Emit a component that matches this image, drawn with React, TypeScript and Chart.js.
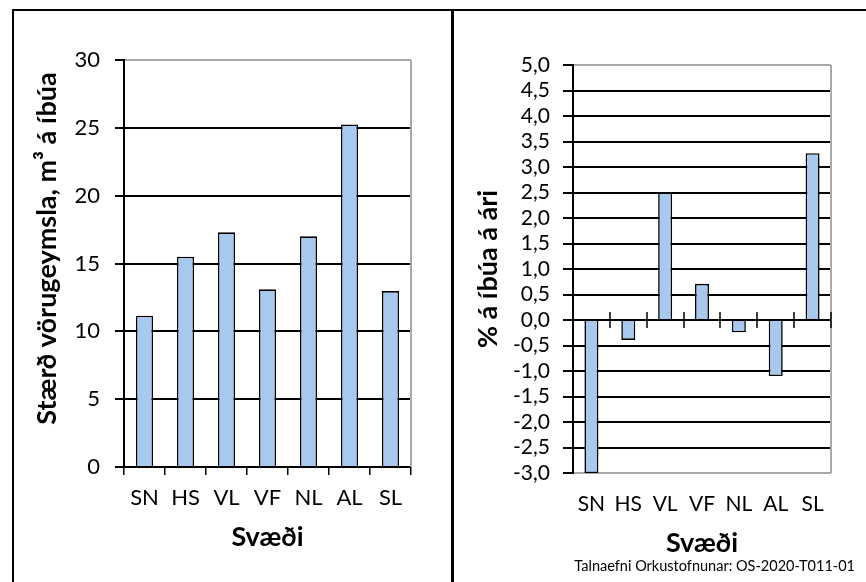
import React, { useEffect, useRef } from "react";
import { Chart, registerables } from "chart.js";

Chart.register(...registerables);

// ---- data ----
const regions = ["SN", "HS", "VL", "VF", "NL", "AL", "SL"];
const storagePerResident = [11.15, 15.5, 17.3, 13.1, 17.0, 25.25, 12.97];
const growthPerYear = [-3.0, -0.39, 2.5, 0.71, -0.24, -1.1, 3.27];
const storageAxis = { min: 0, max: 30, step: 5 };
const growthAxis = { min: -3, max: 5, step: 0.5 };
const xTitle = "Svæði";
const leftYTitle = "Stærð vörugeymsla, m³ á íbúa";
const rightYTitle = "% á íbúa á ári";
const sourceNote = "Talnaefni Orkustofnunar: OS-2020-T011-01";

const FONT = "Lato";
const BLACK = "#000000";
const GRAY = "#A8A8A8";
const BAR_FILL = "#A8C9EE";
const TITLE_SIZE = 27;

const rightEdgePlugin = {
  id: "rightEdge",
  beforeDatasetsDraw(chart: any) {
    const { ctx, chartArea } = chart;
    ctx.save();
    ctx.strokeStyle = GRAY;
    ctx.lineWidth = 2;
    ctx.beginPath();
    ctx.moveTo(Math.round(chartArea.right), chartArea.top);
    ctx.lineTo(Math.round(chartArea.right), chartArea.bottom);
    ctx.stroke();
    ctx.restore();
  },
};

const zeroTicksPlugin = {
  id: "zeroTicks",
  afterDatasetsDraw(chart: any) {
    const { ctx, chartArea, scales } = chart;
    const x = scales.x;
    const y0 = scales.y.getPixelForValue(0);
    const n = x.ticks.length;
    const w = (chartArea.right - chartArea.left) / n;
    ctx.save();
    ctx.strokeStyle = BLACK;
    ctx.lineWidth = 1.5;
    ctx.beginPath();
    for (let i = 1; i <= n; i++) {
      const px = Math.round(chartArea.left + i * w);
      ctx.moveTo(px, y0 - 8);
      ctx.lineTo(px, y0 + 8);
    }
    ctx.stroke();
    ctx.restore();
  },
};

// y-axis title drawn slightly above the plot centre (as in the original)
const makeYTitlePlugin = (text: string, dx: number, dy: number) => ({
  id: "yTitleShifted",
  afterDraw(chart: any) {
    const { ctx, chartArea } = chart;
    ctx.save();
    ctx.translate(chartArea.left - dx, (chartArea.top + chartArea.bottom) / 2 - dy);
    ctx.rotate(-Math.PI / 2);
    ctx.font = `bold ${TITLE_SIZE}px ${FONT}`;
    ctx.fillStyle = BLACK;
    ctx.textAlign = "center";
    ctx.textBaseline = "middle";
    ctx.fillText(text, 0, 0);
    ctx.restore();
  },
});

type PanelProps = {
  values: number[];
  axis: { min: number; max: number; step: number };
  yTitle: string;
  width: number;
  height: number;
  pad: { top: number; right: number };
  yWidth: number;
  xHeight: number;
  right: boolean;
  barPct: number;
  yTickLen: number;
  yTickPad: number;
  yTitlePad: number;
  xTickPad: number;
  xTitlePad: number;
  tickSize: number;
};

function Panel(p: PanelProps) {
  const ref = useRef<HTMLCanvasElement | null>(null);
  useEffect(() => {
    if (!ref.current) return;
    const { min, max, step } = p.axis;
    const plugins: any[] = [rightEdgePlugin];
    if (p.right) plugins.push(zeroTicksPlugin);
    else plugins.push(makeYTitlePlugin(p.yTitle, 77, 15));
    const chart = new Chart(ref.current, {
      type: "bar",
      data: {
        labels: regions,
        datasets: [
          {
            data: p.values,
            backgroundColor: BAR_FILL,
            borderColor: BLACK,
            borderWidth: 1.6,
            barPercentage: p.barPct,
            categoryPercentage: 1,
          },
        ],
      },
      options: {
        animation: false,
        responsive: false,
        devicePixelRatio: 1,
        layout: { padding: { left: 0, top: p.pad.top, right: p.pad.right, bottom: 0 } },
        plugins: { legend: { display: false }, tooltip: { enabled: false } },
        scales: {
          x: {
            afterFit: (s: any) => {
              s.height = p.xHeight;
            },
            grid: p.right
              ? { display: false, drawTicks: false }
              : {
                  display: true,
                  offset: true,
                  drawOnChartArea: false,
                  drawTicks: true,
                  tickLength: 8,
                  color: BLACK,
                  lineWidth: 1.5,
                },
            border: p.right ? { display: false } : { display: true, color: BLACK, width: 2 },
            ticks: {
              color: BLACK,
              font: { family: FONT, size: p.tickSize },
              padding: p.xTickPad,
              maxRotation: 0,
              autoSkip: false,
            },
            title: {
              display: true,
              text: xTitle,
              color: BLACK,
              font: { family: FONT, size: TITLE_SIZE, weight: "bold" },
              padding: { top: 0, bottom: p.xTitlePad },
            },
          },
          y: {
            min,
            max,
            afterFit: (s: any) => {
              s.width = p.yWidth;
            },
            grid: {
              color: (c: any) => {
                const v = c.tick ? c.tick.value : null;
                if (v === max) return GRAY;
                if (p.right && v === min) return GRAY;
                return BLACK;
              },
              lineWidth: 2,
              tickColor: BLACK,
              tickLength: p.yTickLen,
            },
            border: { display: true, color: BLACK, width: 2 },
            ticks: {
              stepSize: step,
              autoSkip: false,
              maxTicksLimit: 100,
              color: BLACK,
              font: { family: FONT, size: p.tickSize },
              padding: p.yTickPad,
              callback: (v: any) =>
                p.right ? Number(v).toFixed(1).replace(".", ",") : String(v),
            },
            title: {
              display: p.right,
              text: p.yTitle,
              color: BLACK,
              font: { family: FONT, size: TITLE_SIZE, weight: "bold" },
              padding: { top: p.yTitlePad, bottom: 0 },
            },
          },
        },
      },
      plugins,
    } as any);
    return () => chart.destroy();
  }, []);
  return (
    <canvas
      ref={ref}
      width={p.width}
      height={p.height}
      style={{ width: p.width, height: p.height, display: "block" }}
    />
  );
}

export default function App() {
  return (
    <div
      style={{
        position: "absolute",
        left: 0,
        top: 0,
        width: 866,
        height: 582,
        background: "#ffffff",
        overflow: "hidden",
      }}
    >
      <div style={{ position: "absolute", left: 12, top: 9, width: 854, height: 2, background: BLACK }} />
      <div style={{ position: "absolute", left: 12, top: 9, width: 2, height: 573, background: BLACK }} />
      <div style={{ position: "absolute", left: 451, top: 9, width: 3, height: 573, background: BLACK }} />
      <div style={{ position: "absolute", left: 14, top: 11 }}>
        <Panel
          values={storagePerResident}
          axis={storageAxis}
          yTitle={leftYTitle}
          width={437}
          height={571}
          pad={{ top: 49, right: 40 }}
          yWidth={110}
          xHeight={115}
          right={false}
          barPct={0.42}
          yTickLen={9}
          yTickPad={15}
          yTitlePad={17}
          xTickPad={10}
          xTitlePad={29}
          tickSize={22}
        />
      </div>
      <div style={{ position: "absolute", left: 454, top: 11 }}>
        <Panel
          values={growthPerYear}
          axis={growthAxis}
          yTitle={rightYTitle}
          width={412}
          height={571}
          pad={{ top: 54, right: 35 }}
          yWidth={119}
          xHeight={109}
          right={true}
          barPct={0.38}
          yTickLen={10}
          yTickPad={13}
          yTitlePad={18}
          xTickPad={19}
          xTitlePad={23}
          tickSize={21}
        />
      </div>
      <div
        style={{
          position: "absolute",
          right: 11,
          top: 557,
          fontFamily: FONT,
          fontSize: 14.5,
          lineHeight: "18px",
          color: BLACK,
          whiteSpace: "nowrap",
        }}
      >
        {sourceNote}
      </div>
    </div>
  );
}
